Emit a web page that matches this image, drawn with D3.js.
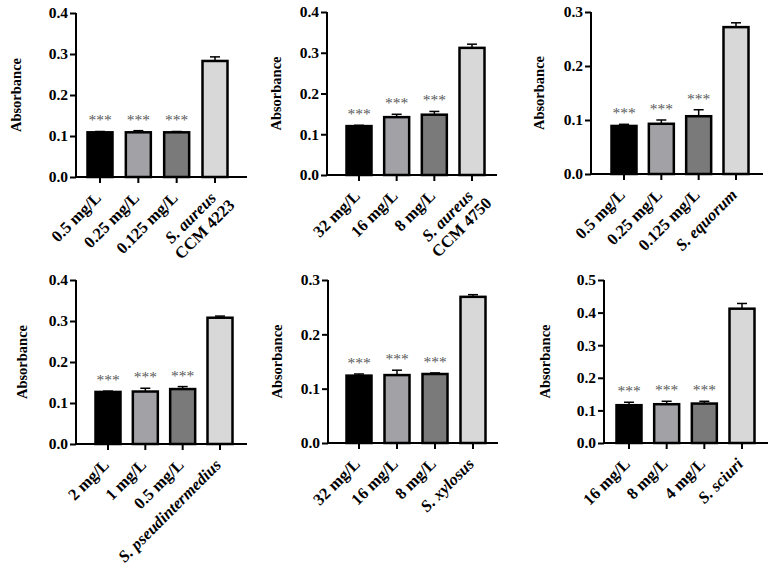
<!DOCTYPE html>
<html>
<head>
<meta charset="utf-8">
<script src="https://cdn.jsdelivr.net/npm/d3@7"></script>
<style>
  body { margin: 0; background: #fff; }
</style>
</head>
<body>
<svg id="chart" width="776" height="568"></svg>
<script>
// categories for each of the 6 panels ("|" splits a label in two lines)
const categories = [
  ["0.5 mg/L", "0.25 mg/L", "0.125 mg/L", "S. aureus|CCM 4223"],
  ["32 mg/L", "16 mg/L", "8 mg/L", "S. aureus|CCM 4750"],
  ["0.5 mg/L", "0.25 mg/L", "0.125 mg/L", "S. equorum"],
  ["2 mg/L", "1 mg/L", "0.5 mg/L", "S. pseudintermedius"],
  ["32 mg/L", "16 mg/L", "8 mg/L", "S. xylosus"],
  ["16 mg/L", "8 mg/L", "4 mg/L", "S. sciuri"]
];
const values = [
  [0.109, 0.109, 0.109, 0.283],
  [0.120, 0.142, 0.148, 0.312],
  [0.089, 0.093, 0.107, 0.272],
  [0.127, 0.128, 0.134, 0.308],
  [0.124, 0.125, 0.127, 0.269],
  [0.116, 0.119, 0.121, 0.412]
];
const errors = [
  [0.002, 0.004, 0.002, 0.010],
  [0.002, 0.007, 0.008, 0.009],
  [0.003, 0.007, 0.012, 0.008],
  [0.002, 0.008, 0.006, 0.004],
  [0.003, 0.009, 0.002, 0.004],
  [0.009, 0.009, 0.007, 0.016]
];
const yMax = [0.4, 0.4, 0.3, 0.4, 0.3, 0.5];
const significance = ["***", "***", "***", ""];
const yTitle = "Absorbance";

const barColors = ["#000000", "#a2a2a6", "#7a7a7a", "#d8d8d8"];
const serif = "'Liberation Serif', 'Times New Roman', serif";

// where each panel sits on the page
const layout = [
  {x0: 76,  y0: 177, yTop: 13,  c0: 100, c3: 215, xEnd: 247, labX: 16},
  {x0: 327, y0: 175, yTop: 12,  c0: 359, c3: 472, xEnd: 497, labX: 276},
  {x0: 591, y0: 174, yTop: 12,  c0: 624, c3: 736, xEnd: 763, labX: 539},
  {x0: 76,  y0: 444, yTop: 280, c0: 108, c3: 220, xEnd: 247, labX: 22},
  {x0: 328, y0: 443, yTop: 280, c0: 359, c3: 473, xEnd: 498, labX: 277},
  {x0: 604, y0: 443, yTop: 280, c0: 629, c3: 742, xEnd: 768, labX: 545}
];

const svg = d3.select("#chart");
const barW = 25;

layout.forEach((L, p) => {
  const g = svg.append("g").attr("font-family", serif);
  const cats = categories[p];

  const x = d3.scalePoint().domain(cats).range([L.c0, L.c3]);
  const y = d3.scaleLinear().domain([0, yMax[p]]).range([L.y0, L.yTop]);

  // bars
  g.selectAll(".bar")
    .data(cats)
    .enter()
    .append("rect")
    .attr("x", d => x(d) - barW / 2)
    .attr("y", (d, i) => y(values[p][i]))
    .attr("width", barW)
    .attr("height", (d, i) => L.y0 - y(values[p][i]))
    .attr("fill", (d, i) => barColors[i])
    .attr("stroke", "#000")
    .attr("stroke-width", 2.5);

  // error bars (upper only)
  cats.forEach((d, i) => {
    const top = y(values[p][i] + errors[p][i]);
    g.append("line")
      .attr("x1", x(d)).attr("x2", x(d))
      .attr("y1", y(values[p][i])).attr("y2", top)
      .attr("stroke", "#000").attr("stroke-width", 1.5);
    g.append("line")
      .attr("x1", x(d) - 5).attr("x2", x(d) + 5)
      .attr("y1", top).attr("y2", top)
      .attr("stroke", "#000").attr("stroke-width", 1.5);

    if (significance[i]) {
      g.append("text")
        .attr("x", x(d))
        .attr("y", top - 6)
        .attr("text-anchor", "middle")
        .attr("font-family", serif)
        .attr("font-size", 15.5)
        .attr("fill", "#5a5a5a")
        .text(significance[i]);
    }
  });

  // y axis
  const yAxis = d3.axisLeft(y)
    .ticks(Math.round(yMax[p] * 10))
    .tickFormat(d3.format(".1f"))
    .tickSize(6)
    .tickPadding(2);
  const ya = g.append("g")
    .attr("transform", `translate(${L.x0},0)`)
    .call(yAxis)
    .attr("font-family", serif);
  ya.select(".domain").attr("d", `M0,${L.yTop}V${L.y0}`).attr("stroke-width", 2);
  ya.selectAll(".tick line").attr("stroke-width", 2);
  ya.selectAll(".tick text")
    .attr("font-size", 15.5)
    .attr("font-weight", "bold")
    .attr("fill", "#000");

  // x axis line and ticks
  g.append("line")
    .attr("x1", L.x0 - 1).attr("x2", L.xEnd)
    .attr("y1", L.y0).attr("y2", L.y0)
    .attr("stroke", "#000").attr("stroke-width", 2);
  g.selectAll(".xtick")
    .data(cats)
    .enter()
    .append("line")
    .attr("x1", d => x(d)).attr("x2", d => x(d))
    .attr("y1", L.y0).attr("y2", L.y0 + 6)
    .attr("stroke", "#000").attr("stroke-width", 2);

  // x labels, rotated
  cats.forEach(d => {
    const lines = d.split("|");
    const t = g.append("text")
      .attr("transform", `translate(${x(d) + 2},${L.y0 + 22}) rotate(-45)`)
      .attr("font-size", 16.5)
      .attr("font-weight", "bold")
      .attr("text-anchor", "end");
    lines.forEach((ln, k) => {
      const span = t.append("tspan")
        .attr("x", k === 0 ? 0 : 8)
        .attr("dy", k === 0 ? 0 : "1.1em")
        .text(ln);
      if (ln.startsWith("S.")) span.attr("font-style", "italic");
    });
  });

  // y title
  g.append("text")
    .attr("transform", `translate(${L.labX},${(L.y0 + L.yTop) / 2}) rotate(-90)`)
    .attr("text-anchor", "middle")
    .attr("dy", "0.35em")
    .attr("font-size", 14.5)
    .attr("font-weight", "bold")
    .text(yTitle);
});
</script>
</body>
</html>
